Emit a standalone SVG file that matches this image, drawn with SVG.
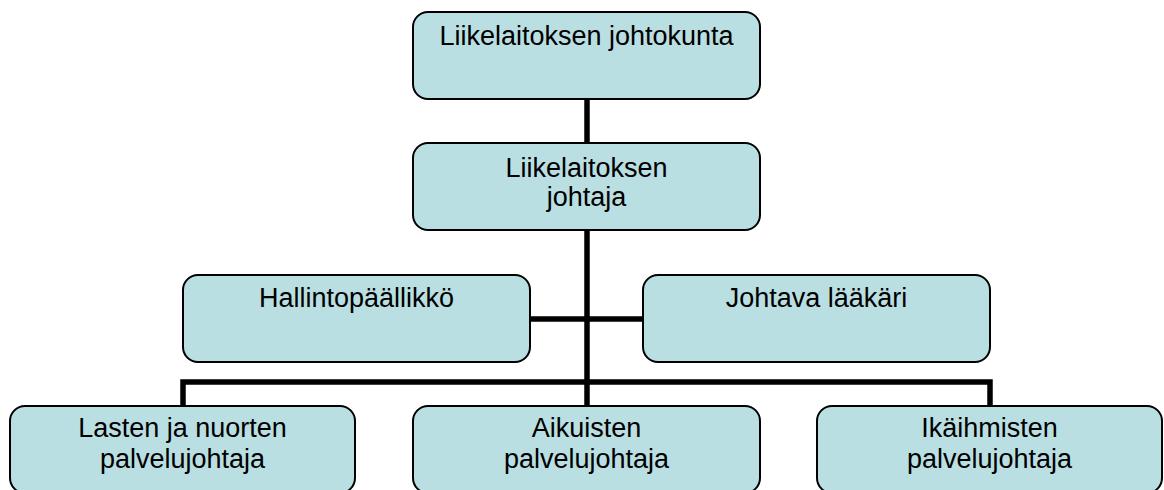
<svg xmlns="http://www.w3.org/2000/svg" width="1164" height="490" viewBox="0 0 1164 490">
<style>
.box{fill:#B9DFE2;stroke:#000;stroke-width:2}
.lbl{font-family:"Liberation Sans",Arial,sans-serif;font-size:27px;fill:#000;text-anchor:middle}
.con{stroke:#000;stroke-width:5.5;fill:none}
</style>
<rect width="1164" height="490" fill="#fff"/>
<g id="connectors">
<line class="con" x1="587" y1="99" x2="587" y2="143"/>
<line class="con" x1="587" y1="230" x2="587" y2="406"/>
<line class="con" x1="530" y1="319" x2="643" y2="319"/>
<polyline class="con" points="183,406 183,382 990,382 990,406"/>
</g>
<g id="n1">
<rect class="box" x="413" y="12" width="347" height="87" rx="15"/>
<text class="lbl" x="586.5" y="45">Liikelaitoksen johtokunta</text>
</g>
<g id="n2">
<rect class="box" x="413" y="143" width="347" height="87" rx="15"/>
<text class="lbl" x="586.5" y="177">Liikelaitoksen</text>
<text class="lbl" x="586.5" y="206">johtaja</text>
</g>
<g id="n3">
<rect class="box" x="183" y="275" width="347" height="87" rx="15"/>
<text class="lbl" x="356.5" y="307">Hallintopäällikkö</text>
</g>
<g id="n4">
<rect class="box" x="643" y="275" width="347" height="87" rx="15"/>
<text class="lbl" x="816.5" y="307">Johtava lääkäri</text>
</g>
<g id="n5">
<rect class="box" x="10" y="406" width="345" height="87" rx="15"/>
<text class="lbl" x="182.5" y="437">Lasten ja nuorten</text>
<text class="lbl" x="182.5" y="468">palvelujohtaja</text>
</g>
<g id="n6">
<rect class="box" x="413" y="406" width="347" height="87" rx="15"/>
<text class="lbl" x="586.5" y="437">Aikuisten</text>
<text class="lbl" x="586.5" y="468">palvelujohtaja</text>
</g>
<g id="n7">
<rect class="box" x="817" y="406" width="345" height="87" rx="15"/>
<text class="lbl" x="989.5" y="437">Ikäihmisten</text>
<text class="lbl" x="989.5" y="468">palvelujohtaja</text>
</g>
</svg>
